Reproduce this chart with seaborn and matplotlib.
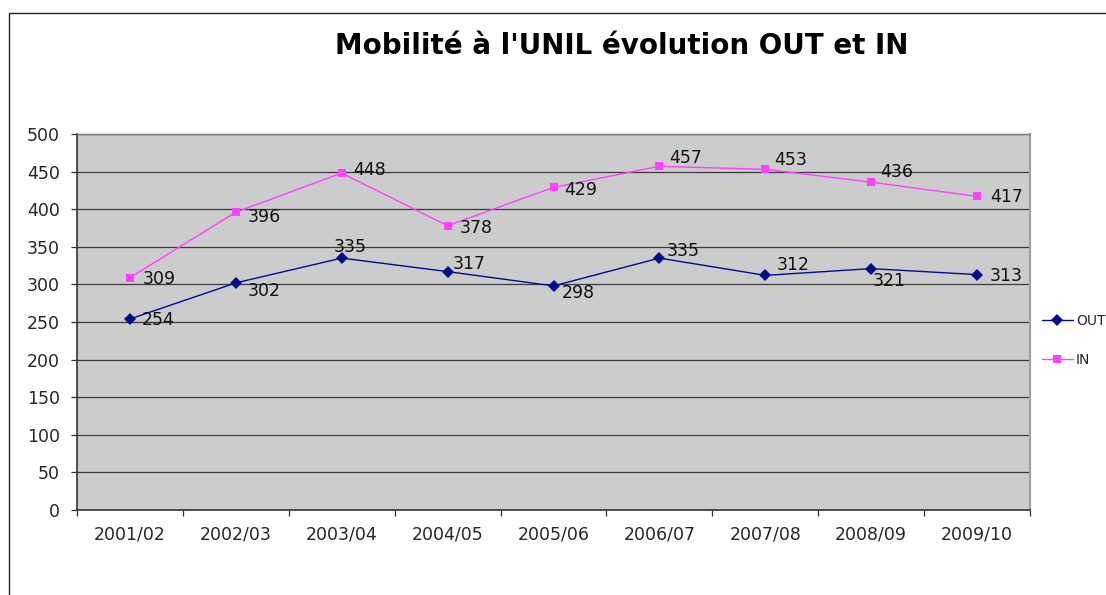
import numpy as np
import pandas as pd
import matplotlib
matplotlib.use("Agg")
import matplotlib.pyplot as plt
import matplotlib.patches as mpatches
import seaborn as sns

# ---- data ----
years = ["2001/02", "2002/03", "2003/04", "2004/05", "2005/06",
         "2006/07", "2007/08", "2008/09", "2009/10"]
out_vals = [254, 302, 335, 317, 298, 335, 312, 321, 313]
in_vals = [309, 396, 448, 378, 429, 457, 453, 436, 417]
series_names = ["OUT", "IN"]
title = "Mobilité à l'UNIL évolution OUT et IN"

# label offsets in pixels (dx to left edge of text, dy downward)
out_offsets = [(12, 0), (12, 7), (-8, -12), (5, -9), (8, 6), (7, -8), (11, -11), (2, 11), (13, 0)]
in_offsets = [(13, 0), (12, 4), (11, -4), (12, 1), (11, 2), (10, -9), (9, -10), (9, -11), (13, 0)]

idx = np.arange(len(years))
df = pd.DataFrame({
    "idx": np.concatenate([idx, idx]),
    "value": out_vals + in_vals,
    "series": [series_names[0]] * len(years) + [series_names[1]] * len(years),
})

sns.set_theme(style="white")
plt.rcParams["font.family"] = ["DejaVu Sans"]

W, H = 1106, 595
fig = plt.figure(figsize=(W / 100, H / 100), dpi=100)
ax = fig.add_axes([77 / W, 1 - 510 / H, (1030 - 77) / W, (510 - 134) / H])
ax.set_facecolor("#CCCCCC")

colors = {"OUT": "#000E8A", "IN": "#FF40FF"}
sns.lineplot(data=df, x="idx", y="value", hue="series", style="series",
             palette=colors, markers={"OUT": "D", "IN": "s"}, dashes=False,
             markersize=6, markeredgewidth=0, linewidth=1.0, ax=ax, zorder=3)

ax.set_xlim(-0.5, len(years) - 0.5)
ax.set_ylim(0, 500)
ax.set_yticks(np.arange(0, 501, 50))
ax.yaxis.grid(True, color="#3A3A3A", linewidth=0.9)
ax.xaxis.grid(False)
ax.set_axisbelow(True)

# x ticks: marks at boundaries, labels at centres
ax.set_xticks(np.arange(-0.5, len(years), 1.0))
ax.set_xticklabels([])
ax.set_xticks(idx, minor=True)
ax.set_xticklabels(years, minor=True)
ax.tick_params(axis="x", which="major", direction="out", length=4.5, width=0.9,
               color="#333333", bottom=True)
ax.tick_params(axis="x", which="minor", length=0, pad=11.5, labelsize=12.5, bottom=True)
ax.tick_params(axis="y", direction="out", length=4.5, width=0.9, color="#333333",
               pad=8, labelsize=12.5, left=True)
ax.set_xlabel("")
ax.set_ylabel("")

for side in ["left", "bottom"]:
    ax.spines[side].set_color("#333333")
    ax.spines[side].set_linewidth(1.2)
ax.spines["top"].set_color("#7A7A7A")
ax.spines["top"].set_linewidth(1.0)
ax.spines["right"].set_color("#A0A0A0")
ax.spines["right"].set_linewidth(1.5)

# data labels
for vals, offs in [(out_vals, out_offsets), (in_vals, in_offsets)]:
    for i, (v, (dx, dy)) in enumerate(zip(vals, offs)):
        ax.annotate(str(v), (i, v), xytext=(dx, -dy - 1), textcoords="offset pixels",
                    ha="left", va="center", fontsize=12.5, color="#111111", zorder=4)

# legend
handles, labels = ax.get_legend_handles_labels()
ax.get_legend().remove()
fig.legend(handles, labels, loc="center left",
           bbox_to_anchor=(1042 / W, 1 - 340.5 / H), bbox_transform=fig.transFigure,
           frameon=False, fontsize=10, handlelength=2.2, handletextpad=0.25,
           labelspacing=1.75, borderpad=0, borderaxespad=0)

# title
fig.text(622 / W, 1 - 46 / H, title, ha="center", va="center",
         fontsize=20, fontweight="bold", color="black")

# outer frame (only top and left visible)
frame = mpatches.Rectangle((9 / W, -0.2), 1.2, 1.2 - 13 / H, transform=fig.transFigure,
                           fill=False, edgecolor="#222222", linewidth=1.0, clip_on=False)
fig.add_artist(frame)

fig.savefig("out.png", dpi=100)
